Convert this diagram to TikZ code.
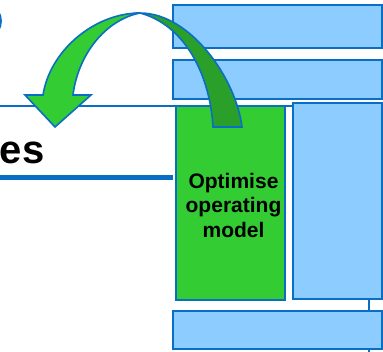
\documentclass[tikz,border=0pt]{standalone}
\usepackage{fontspec}
\setmainfont{Liberation Sans}
\definecolor{bordblue}{HTML}{0A6FC4}
\definecolor{fillblue}{HTML}{8CCCFF}
\definecolor{lightgreen}{HTML}{33CC33}
\definecolor{darkgreen}{HTML}{2AA02A}
\tikzset{
  bluebox/.style={draw=bordblue, fill=fillblue, line width=2pt, inner sep=0pt},
  greenbox/.style={draw=bordblue, fill=lightgreen, line width=2pt, inner sep=0pt,
    align=center, font=\fontsize{21}{24.5}\selectfont\bfseries},
  thinline/.style={draw=bordblue, line width=2pt},
  thickline/.style={draw=bordblue, line width=4.5pt},
  arrowedge/.style={draw=bordblue, line width=1.6pt, line join=miter}
}
\begin{document}
\begin{tikzpicture}[x=1pt,y=-1pt]
\useasboundingbox (0,0) rectangle (383,351);
% connector lines (behind boxes)
\coordinate (l1a) at (0,106);
\coordinate (l1b) at (293,106);
\coordinate (l2a) at (-2,177.5);
\coordinate (l2b) at (173,177.5);
\coordinate (v1a) at (369,299);
\coordinate (v1b) at (369,353);
\draw[thinline] (l1a) -- (l1b);
\draw[thinline] (v1a) -- (v1b);
\draw[thickline] (l2a) -- (l2b);
% boxes
\node[bluebox, minimum width=209pt, minimum height=43pt] (top) at (277.5,26.5) {};
\node[bluebox, minimum width=209pt, minimum height=39pt] (mid) at (277.5,79.5) {};
\node[bluebox, minimum width=89pt, minimum height=196pt] (tall) at (337.5,201) {};
\node[bluebox, minimum width=209pt, minimum height=38pt] (bottom) at (277.5,330) {};
\node[greenbox, minimum width=109pt, minimum height=194pt] (green) at (230.5,203) {};
\node[font=\fontsize{21}{24.5}\selectfont\bfseries, align=center, inner sep=0pt] (greentext) at (233.5,205) {Optimise\\operating\\model};
% partial text on the left
\node[font=\fontsize{40}{48}\selectfont\bfseries, anchor=base east, inner sep=0pt] (es) at (44.5,163) {es};
% partial blue glyph at top left
\draw[draw=bordblue, line width=2.5pt] (-2,12) .. controls (1.5,16) and (1.5,26) .. (-2,30);
% curved arrow: back (dark) part
\coordinate (apex) at (140,13);
\draw[arrowedge, fill=darkgreen] (apex) .. controls (190,13) and (236,78) .. (242,127)
  -- (213,127) .. controls (210,75) and (185,25) .. (apex) -- cycle;
% curved arrow: front (light) part with head
\draw[arrowedge, fill=lightgreen] (apex) .. controls (105,20) and (78,55) .. (73,95)
  -- (91,95) -- (55,127) -- (25,95) -- (43,95)
  .. controls (50,50) and (95,13) .. (apex) -- cycle;
\end{tikzpicture}
\end{document}
